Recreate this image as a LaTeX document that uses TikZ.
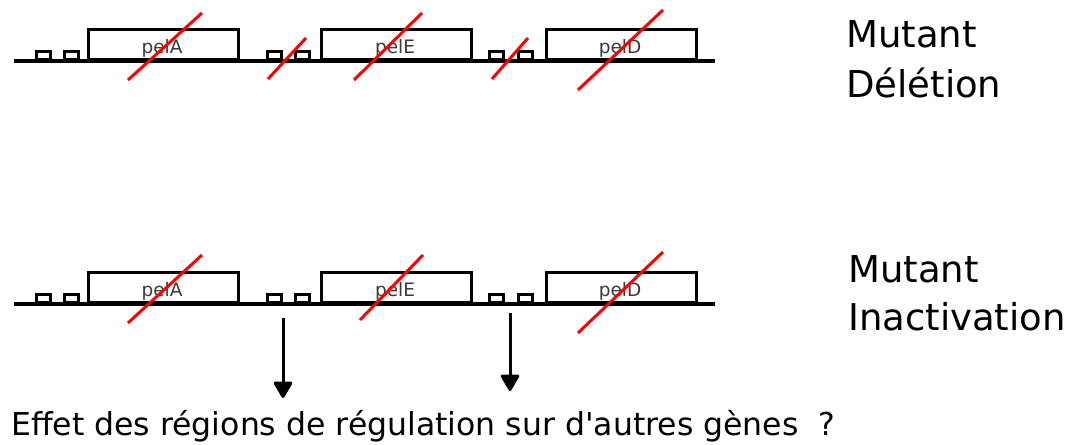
\documentclass[tikz,border=0pt]{standalone}
\usepackage{fontspec}
\newfontfamily\plainfont{DejaVu Sans}
\usetikzlibrary{arrows.meta}
\definecolor{lblgray}{HTML}{3A3A3A}
\tikzset{
  x=1pt, y=-1pt,
  dna/.style={line width=3.2pt, line cap=butt},
  genebox/.style={draw, line width=3.2pt, minimum width=150pt, minimum height=30pt, inner sep=0pt, anchor=south west},
  genelabel/.style={font=\plainfont\fontsize{18.5}{18}\selectfont, text=lblgray, anchor=base, inner sep=0pt},
  regbox/.style={draw, line width=2.8pt, minimum width=14pt, minimum height=8pt, inner sep=0pt, anchor=south west},
  slash/.style={draw=red, line width=3pt},
  effarrow/.style={line width=3pt, -{Triangle[width=20pt,length=18pt,round]}},
  bigtext/.style={font=\plainfont\fontsize{37}{40}\selectfont, anchor=base west, inner sep=0pt},
}
\begin{document}
\begin{tikzpicture}
\useasboundingbox (0,0) rectangle (1083,444);
% ---- Row 1 : deletion
\coordinate (l1s) at (14,61);
\coordinate (l1e) at (715,61);
\draw[dna] (l1s) -- (l1e);
\node[regbox] (r1a) at (35,61) {};
\node[regbox] (r1b) at (63,61) {};
\node[genebox] (g1a) at (87,61) {};
\node[regbox] (r1c) at (266,61) {};
\node[regbox] (r1d) at (294,61) {};
\node[genebox] (g1e) at (320,61) {};
\node[regbox] (r1e) at (488,61) {};
\node[regbox] (r1f) at (517,61) {};
\node[genebox] (g1d) at (545,61) {};
\node[genelabel] (p1a) at (162,53) {pelA};
\node[genelabel] (p1e) at (395,53) {pelE};
\node[genelabel] (p1d) at (620,53) {pelD};
\coordinate (s1a) at (128,80);  \coordinate (t1a) at (202,13);
\coordinate (s1b) at (268,79);  \coordinate (t1b) at (306,38);
\coordinate (s1c) at (354,80);  \coordinate (t1c) at (422,13);
\coordinate (s1d) at (492,79);  \coordinate (t1d) at (528,38);
\coordinate (s1e) at (578,90);  \coordinate (t1e) at (663,10);
\draw[slash] (s1a) -- (t1a);
\draw[slash] (s1b) -- (t1b);
\draw[slash] (s1c) -- (t1c);
\draw[slash] (s1d) -- (t1d);
\draw[slash] (s1e) -- (t1e);
\node[bigtext] (lab1a) at (846,48) {Mutant};
\node[bigtext] (lab1b) at (846,97) {Délétion};
% ---- Row 2 : inactivation
\coordinate (l2s) at (14,304);
\coordinate (l2e) at (715,304);
\draw[dna] (l2s) -- (l2e);
\node[regbox] (r2a) at (35,304) {};
\node[regbox] (r2b) at (63,304) {};
\node[genebox] (g2a) at (87,304) {};
\node[regbox] (r2c) at (266,304) {};
\node[regbox] (r2d) at (294,304) {};
\node[genebox] (g2e) at (320,304) {};
\node[regbox] (r2e) at (488,304) {};
\node[regbox] (r2f) at (517,304) {};
\node[genebox] (g2d) at (545,304) {};
\node[genelabel] (p2a) at (162,296) {pelA};
\node[genelabel] (p2e) at (395,296) {pelE};
\node[genelabel] (p2d) at (620,296) {pelD};
\coordinate (s2a) at (128,323);  \coordinate (t2a) at (202,255);
\coordinate (s2c) at (360,320);  \coordinate (t2c) at (423,255);
\coordinate (s2e) at (578,333);  \coordinate (t2e) at (663,252);
\draw[slash] (s2a) -- (t2a);
\draw[slash] (s2c) -- (t2c);
\draw[slash] (s2e) -- (t2e);
\node[bigtext] (lab2a) at (848,282) {Mutant};
\node[bigtext] (lab2b) at (848,330) {Inactivation};
% ---- arrows and question
\coordinate (a1s) at (283,318); \coordinate (a1e) at (283,398);
\coordinate (a2s) at (510,313); \coordinate (a2e) at (510,391);
\draw[effarrow] (a1s) -- (a1e);
\draw[effarrow] (a2s) -- (a2e);
\node[font=\plainfont\fontsize{31.5}{32}\selectfont, anchor=base west, inner sep=0pt] (q) at (11,435) {Effet des régions de régulation sur d'autres gènes\ \ ?};
\end{tikzpicture}
\end{document}
